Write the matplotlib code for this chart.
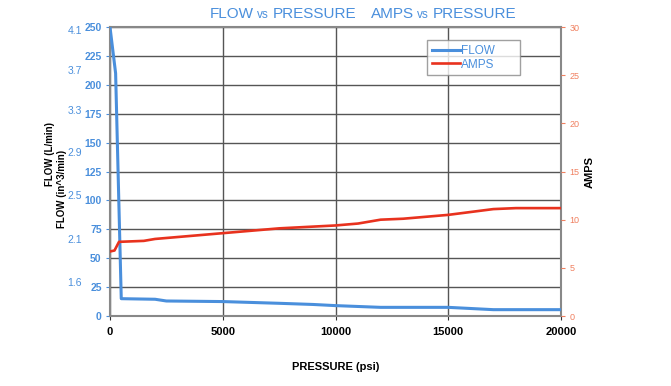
import matplotlib
matplotlib.use('Agg')
import matplotlib.pyplot as plt

plt.rcParams['font.family'] = ['Liberation Sans', 'DejaVu Sans']

# flow data (in^3/min) vs pressure (psi)
flow_psi = [0, 250, 500, 2000, 2500, 5000, 7500, 9000, 10000, 12000, 15000, 17000, 20000]
flow_val = [250, 210, 15, 14.5, 13, 12.5, 11, 10, 9, 7.5, 7.5, 5.5, 5.5]

# amps vs pressure
amps_psi = [0, 200, 400, 1500, 2000, 5000, 7500, 10000, 11000, 12000, 13000, 15000, 17000, 18000, 20000]
amps_val = [6.7, 6.8, 7.7, 7.8, 8.0, 8.6, 9.1, 9.4, 9.6, 10.0, 10.1, 10.5, 11.1, 11.2, 11.2]

# outer L/min labels, placed against the in^3/min scale
lmin_pos = [247, 213, 178, 142, 105, 67, 29]
lmin_lbl = ['4.1', '3.7', '3.3', '2.9', '2.5', '2.1', '1.6']

blue = '#4a8fdc'
red = '#e8321e'
orange = '#f08060'

fig = plt.figure(figsize=(6.71, 3.86), dpi=100)
ax = fig.add_axes([0.1639, 0.1813, 0.6722, 0.7487])

l1, = ax.plot(flow_psi, flow_val, color=blue, lw=2.2, label='FLOW', zorder=3)
ax.set_xlim(0, 20000)
ax.set_ylim(0, 250)
ax.set_xticks([0, 5000, 10000, 15000, 20000])
ax.set_yticks(range(0, 251, 25))
ax.grid(True, color='#555555', lw=1)
ax.tick_params(axis='y', colors=blue, labelsize=7.5, length=3, pad=3)
ax.tick_params(axis='x', colors='#333333', labelsize=8, length=3, pad=5)
for t in ax.get_xticklabels():
    t.set_fontweight('bold')
    t.set_color('black')
for t in ax.get_yticklabels():
    t.set_fontweight('bold')
for s in ax.spines.values():
    s.set_color('#888888')
    s.set_linewidth(1.5)

ax2 = ax.twinx()
l2, = ax2.plot(amps_psi, amps_val, color=red, lw=1.9, label='AMPS', zorder=3)
ax2.set_ylim(0, 30)
ax2.set_yticks(range(0, 31, 5))
ax2.tick_params(axis='y', colors=orange, labelsize=6.5, length=3, pad=3)
for s in ax2.spines.values():
    s.set_visible(False)
ax2.set_ylabel('AMPS', fontsize=8, fontweight='bold', labelpad=4)

ax3 = ax.twinx()
ax3.set_ylim(0, 250)
ax3.yaxis.tick_left()
ax3.set_yticks(lmin_pos)
ax3.set_yticklabels(lmin_lbl)
ax3.tick_params(axis='y', colors=blue, labelsize=7.5, length=0, pad=20)
for s in ax3.spines.values():
    s.set_visible(False)

fig.text(0.074, 0.60, 'FLOW (L/min)', rotation=90, fontsize=7, fontweight='bold',
         ha='center', va='center')
fig.text(0.093, 0.51, 'FLOW (in^3/min)', rotation=90, fontsize=7, fontweight='bold',
         ha='center', va='center')

ax.set_xlabel('PRESSURE (psi)', fontsize=8, fontweight='bold', labelpad=18)

leg = ax2.legend([l1, l2], ['FLOW', 'AMPS'], loc='upper left', mode='expand',
                 bbox_to_anchor=(0.703, 0.955, 0.206, 0.0), borderaxespad=0,
                 fontsize=8.5, frameon=True, fancybox=False, edgecolor='#888888',
                 handlelength=2.4, borderpad=0.4, labelspacing=0.15, handletextpad=0.1)
leg.get_frame().set_linewidth(1)
for t in leg.get_texts():
    t.set_color(blue)

# title in pieces, 'vs' smaller, laid out left to right
title_parts = [('FLOW', 11), ('vs', 8.5), ('PRESSURE', 11), ('   ', 11),
               ('AMPS', 11), ('vs', 8.5), ('PRESSURE', 11)]
renderer = fig.canvas.get_renderer()
xx = 0.313
for txt, fs in title_parts:
    t = fig.text(xx, 0.953, txt, color=blue, fontsize=fs, ha='left', va='baseline')
    w = t.get_window_extent(renderer).width / fig.bbox.width
    if txt.strip() == '':
        w = 0.012
    xx += w + 0.005

fig.savefig('out.png', dpi=100)
